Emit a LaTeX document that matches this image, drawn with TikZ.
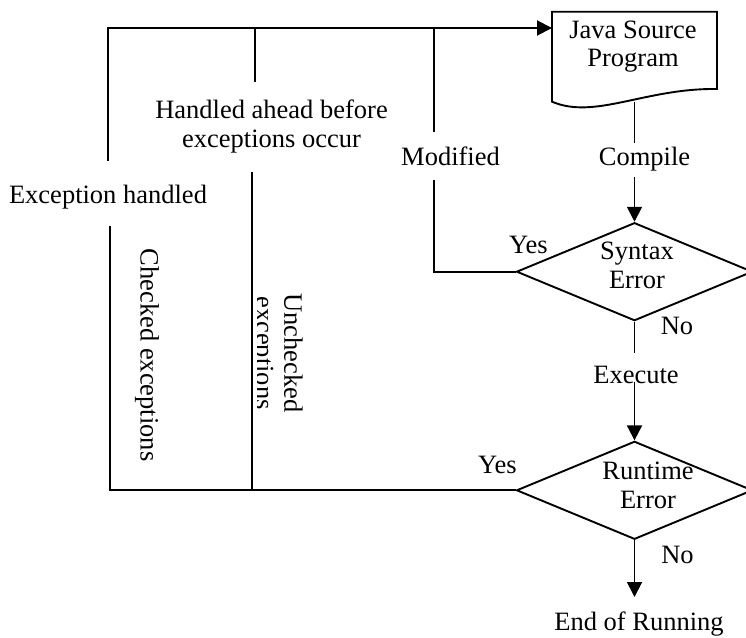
\documentclass[tikz,border=0pt]{standalone}
\usepackage{fontspec}
\setmainfont{Liberation Serif}
\usetikzlibrary{shapes.geometric,arrows.meta}
\begin{document}
\begin{tikzpicture}[x=1pt,y=-1pt,line width=1.9pt,
  every node/.style={font=\fontsize{26.5}{28.5}\selectfont, inner sep=0pt},
  lbl/.style={anchor=base},
  ml/.style={align=center},
  arr/.style={-{Triangle[length=15pt,width=15pt]}},
  dia/.style={diamond, draw, minimum width=236pt, minimum height=98pt, inner sep=0pt}]
\useasboundingbox (0,0) rectangle (746,637);

% document shape
\node[minimum width=165pt, minimum height=90pt, outer sep=0pt] (src) at (634.5,56.7) {};
\draw[line join=miter] (552,101.7) -- (552,11.7) -- (717,11.7) -- (717,89)
  .. controls (645,88) and (595,120) .. (552,101.7) -- cycle;
\node[ml] (srct) at (633,46.5) {Java Source\\Program};

% decisions
\node[dia] (syn) at (634.5,271.7) {};
\node[ml] (synt) at (637,265.2) {Syntax\\Error};
\node[dia] (run) at (634.5,490.3) {};
\node[ml] (runt) at (648,485.1) {Runtime\\Error};

% labels
\node[ml] (hab) at (271.5,126.5) {Handled ahead before\\exceptions occur};
\node[lbl] (cmp) at (644.5,165) {Compile};
\node[lbl] (exe) at (636,383) {Execute};
\node[lbl] (mod) at (450.5,165) {Modified};
\node[lbl] (exh) at (108,203) {Exception handled};
\node[lbl] (no1) at (677,334) {No};
\node[lbl] (no2) at (677.5,563) {No};
\node[lbl] (yes1) at (528.5,253) {Yes};
\node[lbl] (yes2) at (497.5,473) {Yes};
\node[lbl] (end) at (639,630.5) {End of Running};
\node[lbl, rotate=-90] (chk) at (140.5,355) {Checked exceptions};
\begin{scope}
  \clip (257.5,280) rectangle (320,425);
  \node[ml, rotate=-90] (unc) at (276.5,353) {Unchecked\\exceptions};
\end{scope}

% coordinates
\coordinate (tl) at (108,28);
\coordinate (bl) at (110,490.3);
\coordinate (a1) at (108,160.7);
\coordinate (a2) at (110,226);
\coordinate (b0) at (255,28);
\coordinate (b1) at (255,82.3);
\coordinate (b2) at (252,171.7);
\coordinate (m0) at (434,28);
\coordinate (m1) at (434,132);
\coordinate (m2) at (434,180);
\coordinate (c1) at (634.5,143);
\coordinate (c2) at (634.5,177);
\coordinate (e1) at (634.5,353);
\coordinate (e2) at (634.5,382);
\coordinate (endtip) at (634.5,597);

% connectors
\draw[arr] (a1) -- (tl) -- (tl -| src.west);
\draw (b0) -- (b1);
\draw (m0) -- (m1);
\draw (a2) -- (bl) -- (run.west);
\draw (b2) -- (b2 |- bl);
\draw (m2) |- (syn.west);
\draw (src.south) -- (c1);
\draw[arr] (c2) -- (syn.north);
\draw (syn.south) -- (e1);
\draw[arr] (e2) -- (run.north);
\draw[arr] (run.south) -- (endtip);
\end{tikzpicture}
\end{document}
